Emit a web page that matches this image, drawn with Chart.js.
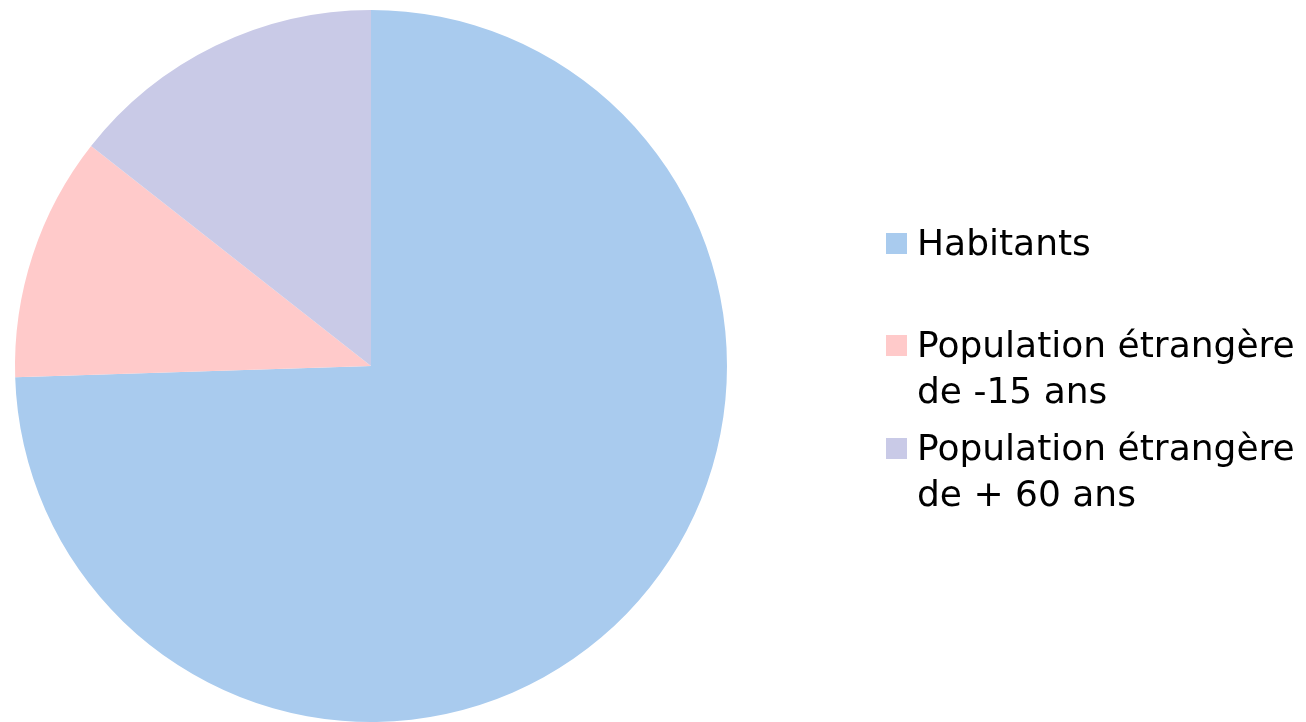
<!DOCTYPE html>
<html>
<head>
<meta charset="utf-8">
<script src="https://cdn.jsdelivr.net/npm/chart.js@4/dist/chart.umd.min.js"></script>
<style>
  html, body { margin: 0; padding: 0; background: #fff; }
  #wrap { width: 1306px; height: 722px; }
</style>
</head>
<body>
<div id="wrap"><canvas id="pie"></canvas></div>
<script>
// legend labels (each label split on lines)
var labels = [
  ["Habitants"],
  ["Population étrangère", "de -15 ans"],
  ["Population étrangère", "de + 60 ans"],
];
// share of each slice (%)
var values = [74.5, 11.1, 14.4];
var colors = ["#A9CBEE", "#FFCACA", "#C9CAE7"];

// legend drawn on the right, with multi-line labels
var sideLegend = {
  id: "sideLegend",
  afterDraw: function (chart) {
    var ctx = chart.ctx;
    var x = 886, textX = 917, lineH = 46;
    var baselines = [255, 357, 460];
    ctx.save();
    ctx.font = "36px 'DejaVu Sans'";
    ctx.fillStyle = "#000";
    ctx.textBaseline = "alphabetic";
    labels.forEach(function (lines, i) {
      var y = baselines[i];
      ctx.fillStyle = colors[i];
      ctx.fillRect(x, y - 22, 21, 21);
      ctx.fillStyle = "#000";
      lines.forEach(function (line, j) {
        ctx.fillText(line, textX, y + j * lineH);
      });
    });
    ctx.restore();
  },
};

new Chart(document.getElementById("pie"), {
  type: "pie",
  data: {
    labels: labels.map(function (l) { return l.join(" "); }),
    datasets: [
      {
        data: values,
        backgroundColor: colors,
        borderWidth: 0,
      },
    ],
  },
  options: {
    responsive: true,
    maintainAspectRatio: false,
    animation: false,
    layout: {
      padding: { left: 15, right: 579, top: 10, bottom: 0 },
    },
    plugins: {
      legend: { display: false },
      tooltip: { enabled: false },
    },
  },
  plugins: [sideLegend],
});
</script>
</body>
</html>
